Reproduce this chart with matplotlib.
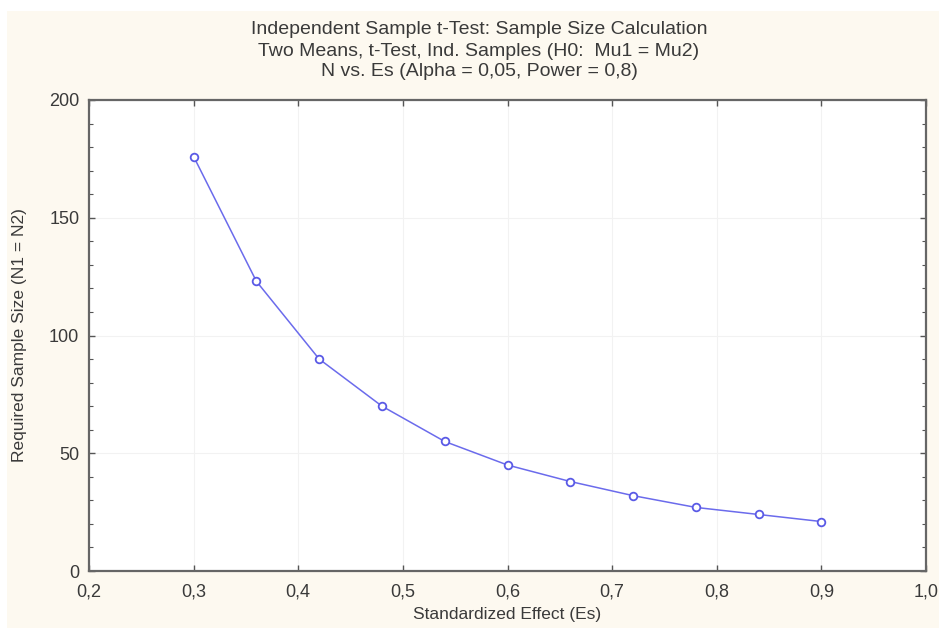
import numpy as np
import matplotlib
matplotlib.use("Agg")
import matplotlib.pyplot as plt
from matplotlib.patches import Rectangle
from matplotlib.ticker import MultipleLocator, FuncFormatter

plt.rcParams['font.family'] = ['Liberation Sans', 'DejaVu Sans']

# data
effect = [0.30, 0.36, 0.42, 0.48, 0.54, 0.60, 0.66, 0.72, 0.78, 0.84, 0.90]
n_req = [176, 123, 90, 70, 55, 45, 38, 32, 27, 24, 21]

title_lines = ["Independent Sample t-Test: Sample Size Calculation",
               "Two Means, t-Test, Ind. Samples (H0:  Mu1 = Mu2)",
               "N vs. Es (Alpha = 0,05, Power = 0,8)"]

cream = '#fdf9f0'
fig = plt.figure(figsize=(9.39, 6.28), dpi=100, facecolor='white')
# cream panel behind the chart (white strip on top/left)
fig.patches.append(Rectangle((7/939, 0), 1, 1 - 11/628, transform=fig.transFigure,
                             facecolor=cream, edgecolor='none', zorder=-1))

ax = fig.add_axes([89/939, 1 - 571/628, (926 - 89)/939, (571 - 100)/628])
ax.set_facecolor('white')

ax.plot(effect, n_req, color='#6b6bec', lw=1.1, marker='o', ms=5.5,
        mfc='white', mec='#5a5ae6', mew=1.3)

ax.set_xlim(0.2, 1.0)
ax.set_ylim(0, 200)
ax.xaxis.set_major_locator(MultipleLocator(0.1))
ax.yaxis.set_major_locator(MultipleLocator(50))
ax.yaxis.set_minor_locator(MultipleLocator(10))
ax.xaxis.set_major_formatter(FuncFormatter(lambda v, p: ('%.1f' % v).replace('.', ',')))
ax.yaxis.set_major_formatter(FuncFormatter(lambda v, p: '%d' % v))

ax.grid(True, which='major', color='#f2f2f2', lw=0.8)
ax.tick_params(which='both', direction='in', top=True, right=True, colors='#555555',
               labelcolor='#3a3a3a', labelsize=13)
ax.tick_params(which='major', length=4, width=1)
ax.tick_params(which='minor', length=3, width=0.8)
ax.tick_params(axis='x', pad=9)
ax.tick_params(axis='y', pad=7)
for s in ax.spines.values():
    s.set_color('#666666')
    s.set_linewidth(1.6)

ax.set_xlabel("Standardized Effect (Es)", fontsize=12.5, color='#3a3a3a', labelpad=5)
ax.set_ylabel("Required Sample Size (N1 = N2)", fontsize=12.5, color='#3a3a3a', labelpad=16)

for i, line in enumerate(title_lines):
    fig.text(479/939, 1 - (30 + 21*i)/628, line, ha='center', va='center',
             fontsize=14, color='#3a3a3a')

fig.savefig('out.png', dpi=100, facecolor=fig.get_facecolor())
